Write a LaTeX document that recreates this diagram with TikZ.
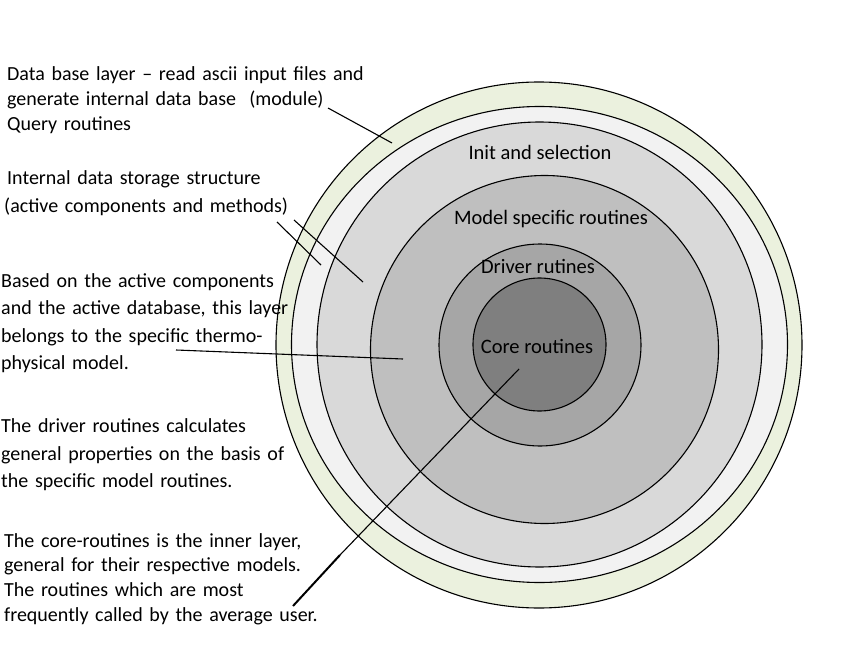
\documentclass[tikz,border=0pt]{standalone}
\usepackage{fontspec}
\setmainfont{Carlito}
\definecolor{ringgreen}{HTML}{EBF1DE}
\definecolor{ringlight}{HTML}{F2F2F2}
\definecolor{ringinit}{HTML}{D9D9D9}
\definecolor{ringmodel}{HTML}{BFBFBF}
\definecolor{ringdriver}{HTML}{A6A6A6}
\definecolor{ringcore}{HTML}{7F7F7F}
\begin{document}
\begin{tikzpicture}[x=1pt,y=-1pt,
    layer/.style={draw=black,line width=1.1pt},
    note/.style={inner sep=0pt,anchor=base west,align=left,text width=420pt,
      font=\fontsize{20}{27.5}\selectfont},
    tightnote/.style={note,font=\fontsize{20}{24.8}\selectfont},
    ringlabel/.style={inner sep=0pt,anchor=base,font=\fontsize{20.5}{22}\selectfont},
    pointer/.style={line width=1.1pt}]
  \useasboundingbox (0,0) rectangle (852,666);
  \filldraw [layer,fill=ringgreen] (539,345) circle [radius=263];
  \filldraw [layer,fill=ringlight] (539.5,344.5) ellipse [x radius=248,y radius=238];
  \filldraw [layer,fill=ringinit] (539.5,344.5) circle [radius=222.5];
  \filldraw [layer,fill=ringmodel] (544.5,349.5) circle [radius=174];
  \filldraw [layer,fill=ringdriver] (540,345) circle [radius=101];
  \filldraw [layer,fill=ringcore] (539.5,344.5) circle [radius=66.5];

  \node [ringlabel] (init) at (540,160) {Init and selection};
  \node [ringlabel] (model) at (551,224) {Model specific routines};
  \node [ringlabel] (driver) at (538,273) {Driver rutines};
  \node [ringlabel] (core) at (537,353) {Core routines};

  \node [tightnote] (dbtext) at (7,81) {Data base layer -- read ascii input files and\\
    generate internal data base~~(module)\\Query routines};
  \node [note] (storetext) at (7,185) {Internal data storage structure\\
    \hspace*{-3pt}(active components and methods)};
  \node [note] (modeltext) at (1,287) {Based on the active components\\
    and the active database, this layer\\belongs to the specific thermo-\\physical model.};
  \node [note] (drivertext) at (1,432.5) {The driver routines calculates\\
    general properties on the basis of\\the specific model routines.};
  \node [tightnote] (coretext) at (4,547) {The core-routines is the inner layer,\\
    general for their respective models.\\The routines which are most\\
    frequently called by the average user.};

  \coordinate (dbfrom) at (328,108);
  \coordinate (dbto) at (392,143);
  \coordinate (storefrom) at (277,222);
  \coordinate (storeto) at (321,265);
  \coordinate (methodfrom) at (294,220);
  \coordinate (methodto) at (363,282);
  \coordinate (modelfrom) at (176,350);
  \coordinate (modelto) at (403,359);
  \coordinate (corefrom) at (519,369);
  \coordinate (corebend) at (340,555);
  \coordinate (coreto) at (293,606);
  \draw [pointer] (dbfrom) -- (dbto);
  \draw [pointer] (storefrom) -- (storeto);
  \draw [pointer] (methodfrom) -- (methodto);
  \draw [pointer] (modelfrom) -- (modelto);
  \draw [pointer] (corefrom) -- (corebend);
  \draw [line width=2pt] (corebend) -- (coreto);
\end{tikzpicture}
\end{document}
